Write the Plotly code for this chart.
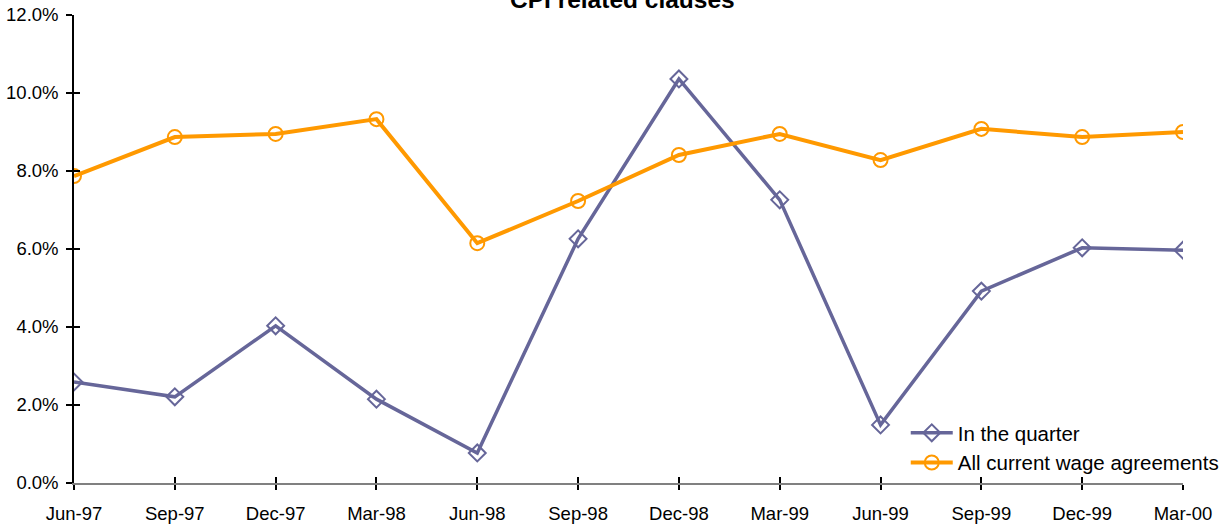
import plotly.graph_objects as go

quarters = ["Jun-97", "Sep-97", "Dec-97", "Mar-98", "Jun-98", "Sep-98",
            "Dec-98", "Mar-99", "Jun-99", "Sep-99", "Dec-99", "Mar-00"]
in_quarter = [2.59, 2.21, 4.03, 2.15, 0.77, 6.26, 10.36, 7.26, 1.49, 4.92, 6.03, 5.97]
all_current = [7.87, 8.87, 8.95, 9.33, 6.15, 7.23, 8.41, 8.95, 8.28, 9.08, 8.87, 9.00]
y_ticks = [0, 2, 4, 6, 8, 10, 12]
y_labels = [f"{v:.1f}%" for v in y_ticks]

PURPLE = "#666699"
ORANGE = "#FF9900"
FONT = "Liberation Sans, Arial, sans-serif"

fig = go.Figure()
fig.add_trace(go.Scatter(
    x=quarters, y=in_quarter, name="In the quarter", mode="lines+markers",
    line=dict(color=PURPLE, width=3.5),
    marker=dict(symbol="diamond-open", size=13, color=PURPLE, line=dict(width=2)),
))
fig.add_trace(go.Scatter(
    x=quarters, y=all_current, name="All current wage agreements", mode="lines+markers",
    line=dict(color=ORANGE, width=4),
    marker=dict(symbol="circle-open", size=14, color=ORANGE, line=dict(width=2)),
))

fig.update_layout(
    width=1229, height=527,
    margin=dict(l=74, r=46, t=15, b=44, autoexpand=False),
    paper_bgcolor="white", plot_bgcolor="white",
    font=dict(family=FONT, size=18, color="black"),
    showlegend=True,
    legend=dict(x=0.750, y=0.0, xanchor="left", yanchor="bottom",
                font=dict(size=20.5), bgcolor="rgba(0,0,0,0)",
                itemwidth=42, tracegroupgap=0),
    xaxis=dict(
        type="category", range=[0, 11], showgrid=False, zeroline=False,
        showline=True, linecolor="#808080", linewidth=2, automargin=False,
        ticks="outside", ticklen=5, tickcolor="black", tickwidth=1.5,
        tickfont=dict(size=18.5), ticklabelstandoff=8,
    ),
    xaxis2=dict(
        type="category", range=[0, 11], overlaying="x", matches="x",
        showgrid=False, zeroline=False, showline=False, automargin=False,
        ticks="inside", ticklen=6, tickcolor="black", tickwidth=1.5,
        showticklabels=False, side="bottom",
    ),
    yaxis=dict(
        range=[0, 12], tickvals=y_ticks, ticktext=y_labels,
        showgrid=False, zeroline=False, automargin=False,
        showline=True, linecolor="black", linewidth=1.5,
        ticks="outside", ticklen=6, tickcolor="black", tickwidth=1.5,
        tickfont=dict(size=18.5), ticklabelstandoff=4,
    ),
    yaxis2=dict(
        range=[0, 12], tickvals=y_ticks, overlaying="y", matches="y",
        showgrid=False, zeroline=False, showline=False, automargin=False,
        ticks="inside", ticklen=6, tickcolor="black", tickwidth=1.5,
        showticklabels=False,
    ),
    annotations=[dict(
        text="<b>CPI related clauses</b>", xref="paper", yref="paper",
        x=0.495, y=1, yshift=0, xanchor="center", yanchor="bottom",
        showarrow=False, font=dict(size=24.5, family=FONT, color="black"),
    )],
)

# invisible trace to activate overlay axes for inner tick marks
fig.add_trace(go.Scatter(x=quarters, y=in_quarter, xaxis="x2", yaxis="y2",
                         mode="none", showlegend=False, hoverinfo="skip"))

fig.write_html("out.html", config={"displayModeBar": False},
               post_script="document.body.style.margin='0';document.body.style.overflow='hidden';")
